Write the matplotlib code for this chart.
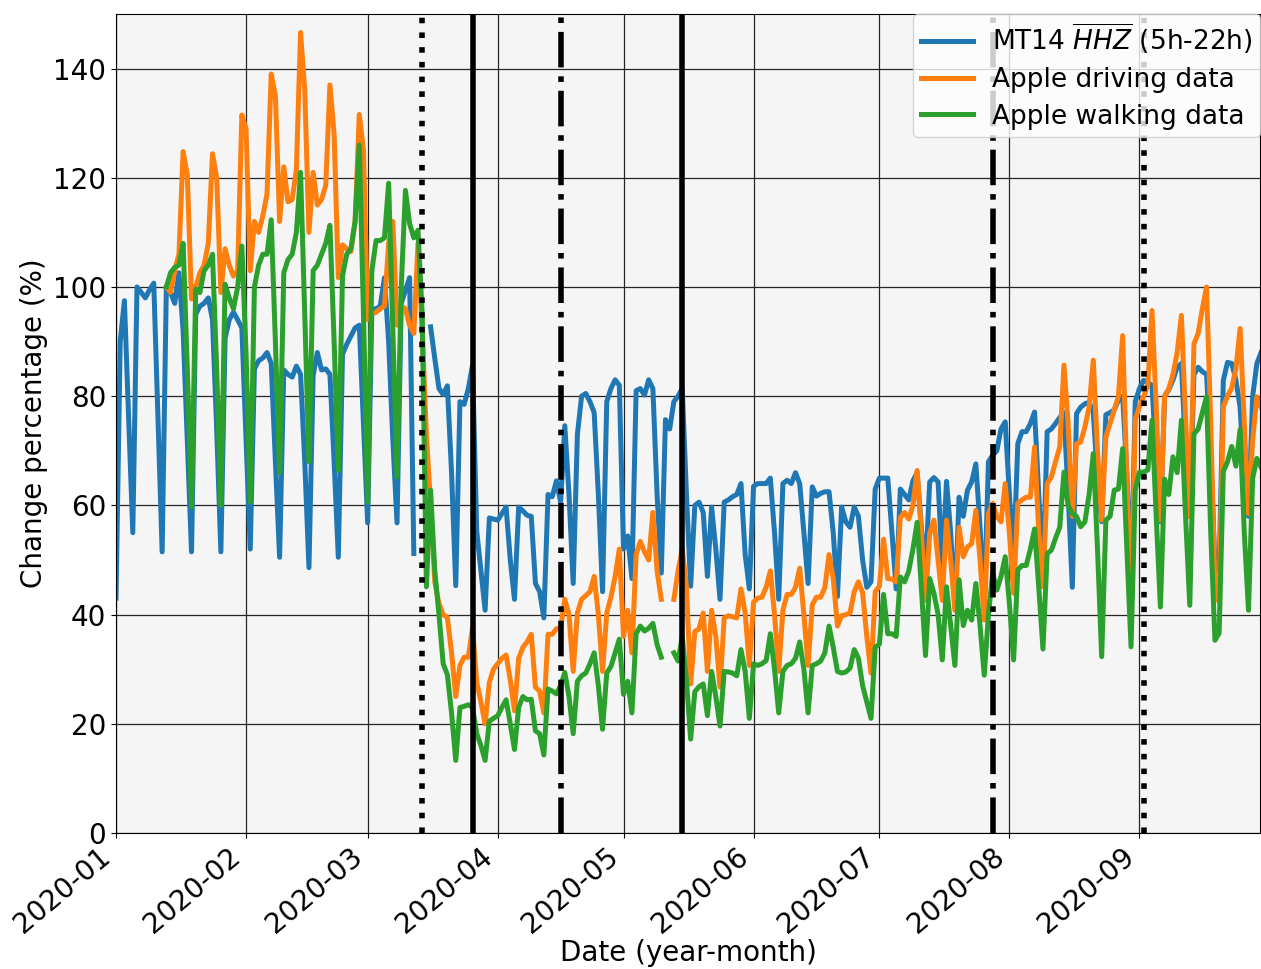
import numpy as np
import pandas as pd
import matplotlib
matplotlib.use("Agg")
import matplotlib.pyplot as plt
import matplotlib.dates as mdates

nan = np.nan

# daily values from 2020-01-01, one line per week (Mon..Sun), first line Wed..Sun
mt14 = [
    43, 90, 97.5, 76, 55,
    100, 99, 98, 99.5, 100.7, 76, 51.5,
    100, 99, 97, 102.6, 92, 72, 51.5,
    95, 96.5, 97, 98, 94, 74, 51.5,
    90.6, 94, 95.4, 94, 92.5, 72, 52,
    85, 86.5, 87, 88, 86, 68, 50.5,
    84.8, 84, 83.5, 85.5, 84, 68, 48.6,
    83.8, 88, 84.8, 85, 84, 68, 50.5,
    87.7, 89.5, 91, 92.5, 93, 75, 56.8,
    96, 96, 96.5, 101.7, 90, 72, 56.8,
    97, 99.4, 101.7, 51.2, nan, nan, nan,
    92.7, 86.9, 81.4, 80.3, 81.9, 66, 45.3,
    79, 78.5, 81.4, 85.7, 55.3, 48, 40.8,
    57.7, 57.5, 57.3, 58.5, 59.7, 50, 42.8,
    59.7, 59, 58.2, 58, 45.7, 44.2, 39.4,
    62, 61.6, 64.5, 60.6, 74.6, 62, 45.7,
    73, 80, 80.5, 79, 77, 62, 44.2,
    79, 81.4, 83, 82, 52, 54.4, 46.6,
    81, 81.4, 80.2, 83, 81.4, 62, 47.6,
    75.7, 74, 79, 80, 81.4, 62, 45.2,
    60, 60.6, 58.7, 47, 59.7, 52, 42.8,
    60.6, 61, 61.6, 62, 64, 51, 44.7,
    63.5, 64, 64, 64, 65, 55, 42.8,
    64, 64.6, 64, 66, 64, 55, 45.7,
    63.4, 61.7, 62.2, 62.5, 62.5, 55, 43.3,
    59.7, 57, 56, 59.7, 58, 50, 45,
    46, 63, 65, 65, 65, 55, 44.7,
    63, 62, 61, 64.5, 66, 56, 48,
    64.3, 65.1, 64.3, 48.5, 64.4, 55, 41.3,
    61.5, 58, 62.8, 64.3, 67.6, 56, 41.8,
    68, 69.2, 70, 74, 75.3, 62, 50,
    71.3, 73.5, 73.5, 75, 77.1, 62, 47,
    73.5, 74, 75, 76.1, 77, 62, 45,
    76.8, 78, 78.6, 78.9, 77, 65, 57,
    76.6, 77, 77.5, 79.3, 80, 66, 45,
    79, 81.4, 82.9, 82.5, 82, 68, 57,
    80, 81.2, 83, 85.3, 86, 70, 58,
    84, 85.3, 84.5, 84, 70, 49, 48,
    82.9, 86.2, 86, 83, 78, 65, 58,
    80, 86, 88,
]

apple_driving = [
    nan, nan, nan, nan, nan,
    nan, nan, nan, nan, nan, nan, nan,
    100, 99, 103, 106, 124.8, 120.5, 97.8,
    100, 102.6, 104, 108, 124.4, 120, 99,
    107, 104, 102, 103, 131.5, 129, 103,
    112, 110, 113, 117, 139, 135, 112,
    122, 115.6, 116, 121.5, 146.6, 136, 110,
    121, 115, 116, 118.6, 137, 128, 101.7,
    107.7, 107, 106.5, 112, 131.6, 125, 94,
    95, 95.4, 96, 96.5, 108, 112, 93,
    96.5, 96, 93, 91.5, 108, 92, 73,
    60, 46, 42, 40, 39.5, 33, 25,
    30.7, 32.2, 32.2, 37.6, 27.6, 24, 20,
    27.6, 30, 31, 32, 32.6, 28, 22.4,
    32, 34, 35, 36.4, 26.7, 26, 22,
    36.4, 36.4, 37.4, 37.5, 42.8, 40, 29.6,
    40.3, 42.8, 43.5, 44.2, 47, 40, 29.6,
    40.3, 43.2, 47, 52, 36, 40.8, 33,
    51, 53.4, 51.5, 50, 58.7, 48, 42.8,
    nan, nan, 42.8, 48, 52, 45, 27.3,
    36.9, 37.4, 40.3, 29.6, 40.8, 36, 26.7,
    39.4, 39.8, 39.6, 39.4, 44.7, 40.3, 30.7,
    42.3, 43, 43.2, 45, 48, 40, 29.6,
    40.8, 43.7, 43.7, 45, 48.5, 40, 30.7,
    41.8, 43.2, 43.2, 45, 51, 46.6, 37.9,
    39.8, 40, 40.3, 44.2, 46, 44, 36,
    29.3, 44.2, 45.2, 53.8, 46.6, 46.5, 46,
    57.8, 58.7, 57.5, 60, 66.4, 55, 42.6,
    54.9, 57.3, 50, 42.6, 57.3, 50, 40.8,
    56, 50.6, 52.4, 53, 59.1, 50, 39,
    58.5, 60.4, 58, 57, 64, 54.9, 43.9,
    60.4, 61, 61.5, 61.5, 70.7, 55, 45.1,
    64, 65.2, 68, 70.7, 85.7, 75, 58,
    71.3, 71.6, 74.4, 78, 86.6, 70, 57.3,
    72.5, 75, 77.5, 80, 91.1, 65, 39,
    75.7, 78.1, 79.9, 82, 95.7, 78, 57.3,
    79.9, 81.4, 84, 88, 94.8, 76, 57.9,
    89.6, 91.5, 96, 100, 75, 45, 42.3,
    78.1, 80, 81.5, 85, 92.4, 75, 58.5,
    72, 79.9, 78,
]

apple_walking = [
    nan, nan, nan, nan, nan,
    nan, nan, nan, nan, nan, nan, nan,
    100, 102.6, 103.6, 104, 108, 85, 59.7,
    99.6, 99, 103, 104, 106, 85, 60,
    100.5, 98, 96, 100, 107.5, 88, 60.6,
    100, 104, 106, 106, 112.3, 90, 66,
    102.6, 105, 106, 110, 121, 95, 68,
    103, 104, 106, 108, 111.3, 90, 66.4,
    102, 106, 107, 112, 126, 95, 60.6,
    103, 108.5, 108.5, 109, 119, 92, 65.2,
    100, 117.7, 111.6, 109, 110.4, 95, 45.1,
    62.8, 48, 40, 31, 29, 22, 13.3,
    23, 23.2, 23.5, 23, 18.2, 16, 13.3,
    20.5, 21, 21.5, 23, 24.4, 20, 15.3,
    23, 25, 24.4, 24.5, 18.7, 18.2, 14.3,
    26.4, 26, 25.5, 27, 29.4, 25, 18.2,
    27.8, 28.8, 29.3, 31, 33, 27, 19,
    29.3, 30.5, 33, 35.5, 25.4, 27.8, 22,
    36.5, 37.9, 37, 37.5, 38.4, 34.5, 32.2,
    nan, nan, 33, 31.5, 36, 28, 17.2,
    25.9, 26.8, 27.3, 21.5, 29.6, 25, 19.6,
    29.6, 29.5, 29.3, 28.8, 33.6, 29.6, 21,
    31, 30.7, 31, 31.6, 36.5, 30, 22,
    29.6, 30.7, 31, 32, 35, 30, 22,
    30.7, 31, 31.5, 33, 37.9, 34, 29.6,
    29.3, 29.5, 30.2, 33.6, 32, 27, 24,
    21, 34, 34.6, 43.7, 36.5, 36.5, 36,
    46.9, 46, 48, 52, 56.9, 45, 32.5,
    46.6, 43.9, 40, 31.7, 45.1, 38, 30.7,
    46.4, 38, 40.8, 39, 45.7, 38, 28.9,
    40, 47.6, 44.5, 47, 50.6, 42, 31.7,
    48.2, 49, 49, 52, 55.7, 45, 33.7,
    51.2, 51.8, 54, 56, 66.1, 60, 58.5,
    58, 56.1, 57, 62, 69.5, 52, 32.3,
    57.3, 58, 62.8, 63, 70.4, 52, 34.1,
    62.8, 66.1, 66.1, 66.5, 75.6, 58, 41.4,
    64.8, 62, 68.9, 66, 75.6, 58, 41.7,
    73.1, 74, 77, 79.9, 55, 35.3, 36.6,
    66.2, 68, 70.8, 67.2, 73.9, 55, 40.8,
    65, 68.6, 67,
]

# event dates drawn as vertical lines
event_dates = ["2020-03-14", "2020-03-26", "2020-04-16", "2020-05-15", "2020-07-28", "2020-09-02"]
event_styles = [":", "-", "-.", "-", "-.", ":"]

dates = pd.date_range("2020-01-01", periods=len(mt14), freq="D")

fig = plt.figure(figsize=(12.61, 9.69), dpi=100)
ax = fig.add_axes([0.092, 0.1403, 0.9075, 0.8453])
ax.set_facecolor("#f5f5f5")

ax.plot(dates, mt14, color="tab:blue", lw=3.6, label=r"MT14 $\overline{HHZ}$ (5h-22h)")
ax.plot(dates, apple_driving, color="tab:orange", lw=3.6, label="Apple driving data")
ax.plot(dates, apple_walking, color="tab:green", lw=3.6, label="Apple walking data")

for d, ls in zip(event_dates, event_styles):
    ax.axvline(pd.Timestamp(d), color="black", ls=ls, lw=4)

ax.set_xlim(pd.Timestamp("2020-01-01"), pd.Timestamp("2020-09-29 20:00"))
ax.set_ylim(0, 150)
ax.set_yticks(range(0, 141, 20))
ax.xaxis.set_major_locator(mdates.MonthLocator())
ax.xaxis.set_major_formatter(mdates.DateFormatter("%Y-%m"))
ax.grid(True, color="0.15", lw=0.9)
ax.tick_params(labelsize=20)
for lbl in ax.get_xticklabels():
    lbl.set_rotation(40)
    lbl.set_ha("right")

ax.set_xlabel("Date (year-month)", fontsize=20, labelpad=0)
ax.set_ylabel("Change percentage (%)", fontsize=20)
ax.legend(loc="upper right", fontsize=19, borderaxespad=0,
          labelspacing=0.4, borderpad=0.3, handletextpad=0.7)

fig.savefig("out.png", dpi=100)
